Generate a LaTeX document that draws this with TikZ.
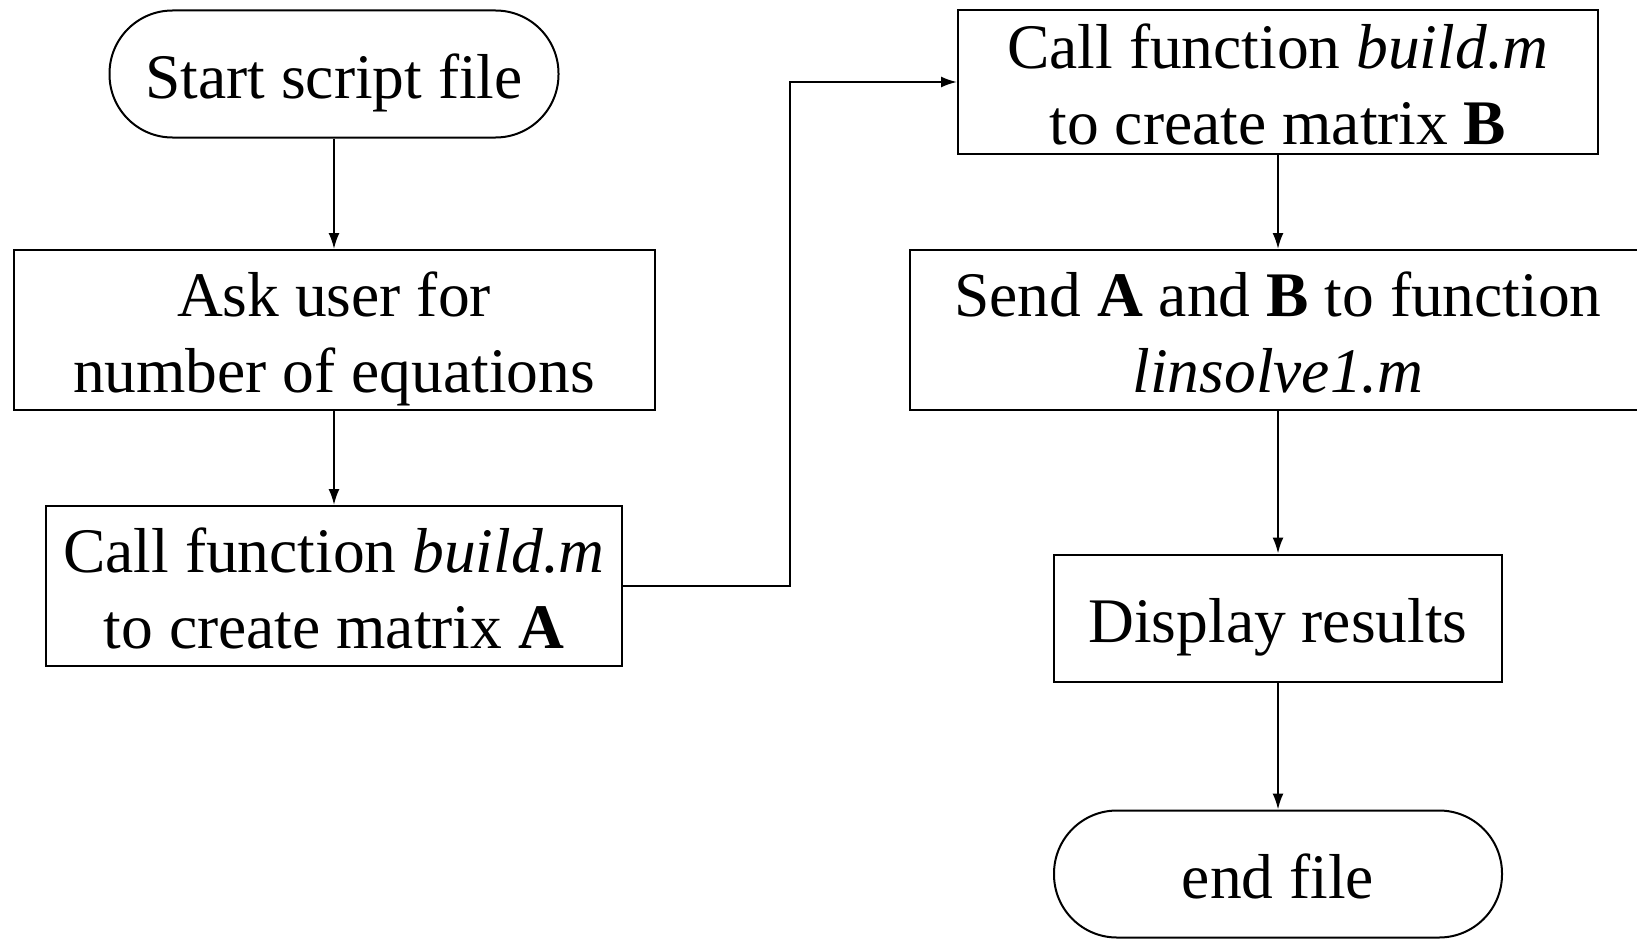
\documentclass[tikz,border=0pt]{standalone}
\usepackage{fontspec}
\setmainfont{Liberation Serif}
\usetikzlibrary{positioning,arrows.meta}
% 每行统一高度
\newcommand{\tline}[1]{\rule[-10pt]{0pt}{68pt}\smash{#1}}

\begin{document}
\begin{tikzpicture}[x=1pt,y=-1pt,
	proc/.style={draw,line width=2pt,rectangle,align=center,inner sep=0pt,
		font=\fontsize{63.5}{76}\selectfont},
	term/.style={proc,rounded corners=63pt},
	flow/.style={line width=2pt,-{Latex[length=16pt,width=11pt]}}]
	% 画布
	\useasboundingbox (0,0) rectangle (1637,942);
	
	% 左列
	\node[term,minimum width=449pt,minimum height=127pt] (start) at (334,74) {\tline{Start script file}};
	\node[proc,minimum width=641pt,minimum height=160pt] (ask) at (334,330) {\tline{Ask user for}\\\tline{number of equations}};
	\node[proc,minimum width=576pt,minimum height=160pt] (callA) at (334,586) {\tline{Call function \textit{build.m}}\\\tline{to create matrix \textbf{A}}};
	
	% 右列
	\node[proc,minimum width=640pt,minimum height=144pt] (callB) at (1278,82) {\tline{Call function \textit{build.m}}\\\tline{to create matrix \textbf{B}}};
	\node[proc,minimum width=736pt,minimum height=160pt] (send) at (1278,330) {\tline{Send \textbf{A} and \textbf{B} to function}\\\tline{\textit{linsolve1.m}}};
	\node[proc,minimum width=448pt,minimum height=127pt] (disp) at (1278,618) {\tline{Display results}};
	\node[term,minimum width=448pt,minimum height=127pt] (endf) at (1278,874) {\tline{end file}};
	
	% 连线
	\coordinate (bend) at (790,586);
	\draw[flow] (start) -- (ask);
	\draw[flow] (ask) -- (callA);
	\draw[flow] (callA.east) -- (bend) |- (callB.west);
	\draw[flow] (callB) -- (send);
	\draw[flow] (send) -- (disp);
	\draw[flow] (disp) -- (endf);
\end{tikzpicture}
\end{document}
